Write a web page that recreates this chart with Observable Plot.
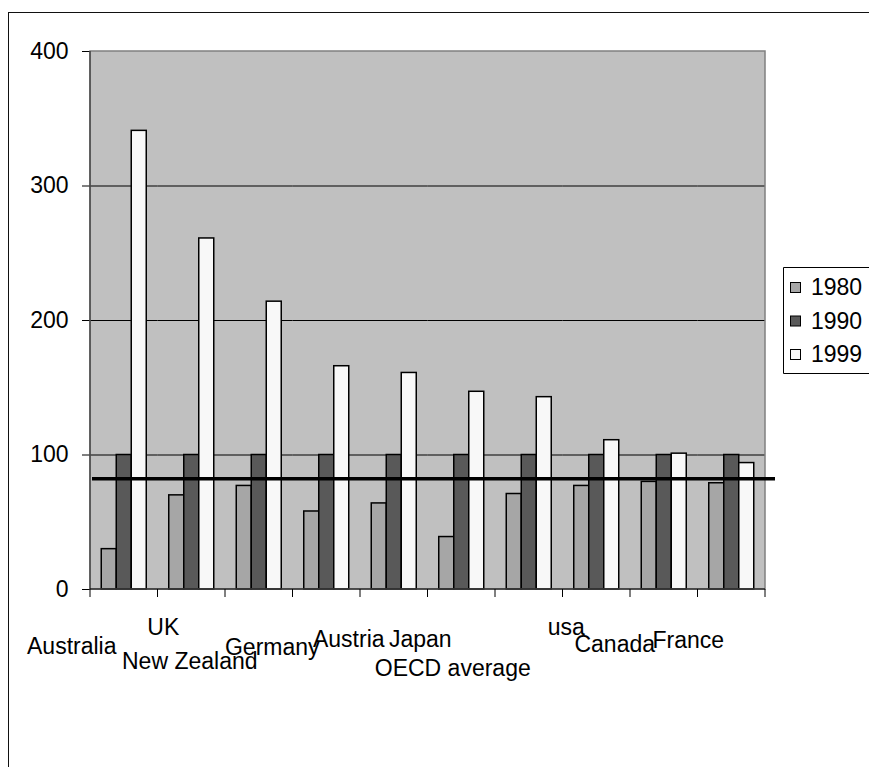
<!DOCTYPE html>
<html><head><meta charset="utf-8">
<script src="https://cdn.jsdelivr.net/npm/d3@7"></script>
<script src="https://cdn.jsdelivr.net/npm/@observablehq/plot@0.6"></script>
<style>
html,body{margin:0;padding:0;background:#fff;overflow:hidden}
#chart{position:relative;width:869px;height:767px}
svg text{font-family:Arial,"Liberation Sans",sans-serif}
</style></head><body><div id="chart"></div>
<script>
// ---- data ----
const countries = ["Australia","UK","New Zealand","Germany","Austria","Japan","OECD average","usa","Canada","France"];
const years = ["1980","1990","1999"];
const v1980 = [30,70,77,58,64,39,71,77,80,79];
const v1990 = [100,100,100,100,100,100,100,100,100,100];
const v1999 = [341,261,214,166,161,147,143,111,101,94];
const referenceLine = 82;
const yTicks = [0,100,200,300,400];
const yearColors = ["#a6a6a6","#595959","#f8f8f8"];

// ---- label layout (staggered category labels, as in the original) ----
const labelDx = [-52,-28,-69,-54,-45,-41,-76,-30,-49,-43];
const labelDy = [65,46,80,66,58,58,87,46,63,59];

const series = [v1980, v1990, v1999];
const data = countries.flatMap((c,i) => years.map((yr,j) => ({country:c, year:yr, value:series[j][i]})));

const FONT = "Arial, 'Liberation Sans', sans-serif";

const chart = Plot.plot({
  width: 869, height: 767,
  marginLeft: 90, marginRight: 104, marginTop: 51, marginBottom: 178,
  style: {fontFamily: FONT, fontSize: "23px", background: "transparent", overflow: "visible"},
  fx: {domain: countries, padding: 0, round: false, axis: null, label: null},
  x: {domain: years, paddingInner: 0, paddingOuter: 0.75, round: false, axis: null},
  y: {domain: [0,400], axis: null},
  color: {domain: years, range: yearColors},
  marks: [
    Plot.ruleY(yTicks.slice(1,4), {stroke:"#000", strokeWidth:1}),
    Plot.barY(data, {fx:"country", x:"year", y:"value", fill:"year", stroke:"#000", strokeWidth:1.5}),
    Plot.axisY({ticks: yTicks, tickSize: 8, tickPadding: 14, fontSize: 23, label: null, stroke: "#000", fill: "#000"})
  ]
});
document.getElementById("chart").appendChild(chart);

// ---- decorations drawn from the library's scales ----
const svg = d3.select(chart);
const fx = chart.scale("fx"), y = chart.scale("y");
const x0 = fx.range[0], x1 = fx.range[1];
const bw = fx.bandwidth;
const y0 = y.apply(0), yTop = y.apply(400);

// grey plot area (behind everything)
svg.insert("rect", ":first-child").attr("x",x0).attr("y",yTop).attr("width",x1-x0).attr("height",y0-yTop)
  .attr("fill","#c0c0c0");
// plot-area border
svg.append("rect").attr("x",x0).attr("y",yTop).attr("width",x1-x0).attr("height",y0-yTop)
  .attr("fill","none").attr("stroke","#808080").attr("stroke-width",1.5);
// axis lines
svg.append("line").attr("x1",x0).attr("x2",x0).attr("y1",yTop).attr("y2",y0).attr("stroke","#222").attr("stroke-width",1);
svg.append("line").attr("x1",x0).attr("x2",x1).attr("y1",y0).attr("y2",y0).attr("stroke","#000").attr("stroke-width",1.2);
// category boundary ticks
const bounds = countries.map(c => fx.apply(c)).concat([x1]);
svg.append("g").selectAll("line").data(bounds).join("line")
  .attr("x1",d=>d).attr("x2",d=>d).attr("y1",y0).attr("y2",y0+8).attr("stroke","#000").attr("stroke-width",1);
// reference line
const yr = y.apply(referenceLine);
svg.append("line").attr("x1",x0+2).attr("x2",x1+10).attr("y1",yr).attr("y2",yr).attr("stroke","#000").attr("stroke-width",3.5);
// category labels
svg.append("g").attr("font-size",23).attr("font-family",FONT).attr("text-anchor","middle").attr("fill","#000")
  .selectAll("text").data(countries).join("text")
  .attr("x",(c,i)=>fx.apply(c)+bw/2+labelDx[i])
  .attr("y",(c,i)=>y0+labelDy[i])
  .text(c=>c);
// legend (box runs off the right edge, as in the original)
const lg = svg.append("g").attr("text-anchor","start");
lg.append("rect").attr("x",783.5).attr("y",267.5).attr("width",200).attr("height",106).attr("fill","#fff").attr("stroke","none");
lg.append("path").attr("d","M990,267.5H783.5V373.5H990").attr("fill","none").attr("stroke","#000").attr("stroke-width",1);
years.forEach((yrName,i)=>{
  lg.append("rect").attr("x",790.5).attr("y",282.5+33.5*i).attr("width",10).attr("height",10)
    .attr("fill",yearColors[i]).attr("stroke","#000").attr("stroke-width",1);
  lg.append("text").attr("x",811).attr("y",295+33.5*i).attr("font-size",23).attr("font-family",FONT).attr("fill","#000").text(yrName);
});
// outer chart border (cropped at right/bottom in the original)
svg.append("line").attr("x1",8).attr("x2",900).attr("y1",12.5).attr("y2",12.5).attr("stroke","#111").attr("stroke-width",1);
svg.append("line").attr("x1",8.5).attr("x2",8.5).attr("y1",12).attr("y2",800).attr("stroke","#111").attr("stroke-width",1);
</script></body></html>
